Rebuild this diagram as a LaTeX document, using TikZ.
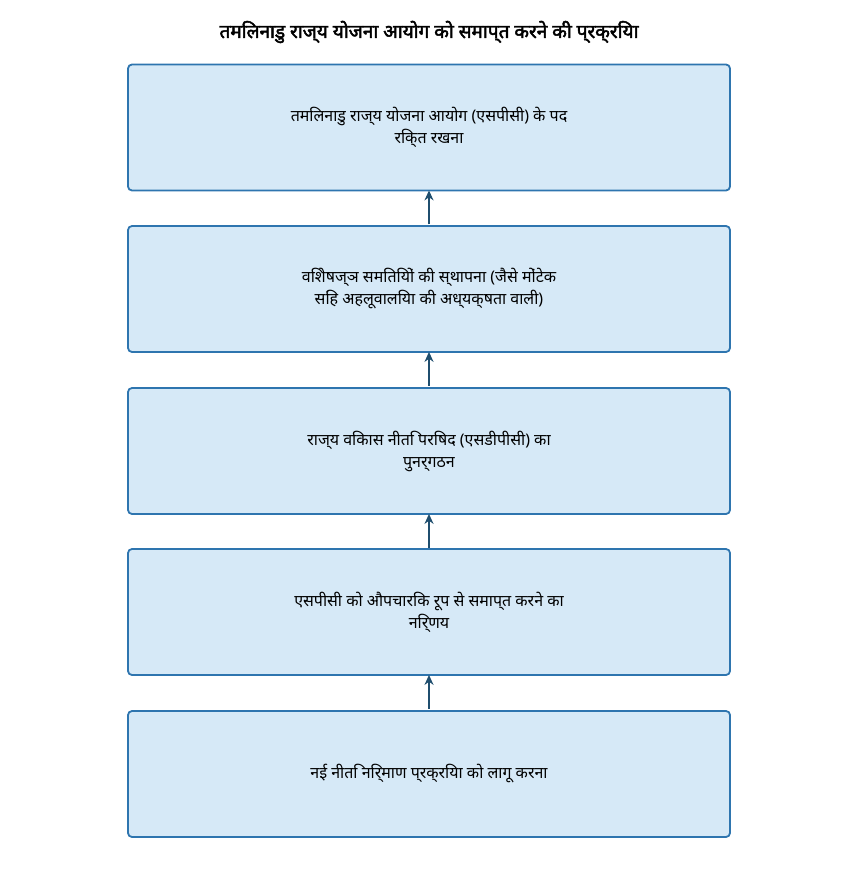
\documentclass[tikz,border=0pt]{standalone}
\usepackage{fontspec}
\setmainfont{Noto Sans}[AutoFakeBold=2.5]
\usetikzlibrary{arrows.meta}
\definecolor{boxfill}{HTML}{D6E9F7}
\definecolor{boxline}{HTML}{2E75AF}
\definecolor{arr}{HTML}{1F4E6E}
\tikzset{
 box/.style={draw=boxline,line width=1.8pt,fill=boxfill,rounded corners=4pt,minimum width=602pt,minimum height=126pt,align=center,font=\fontsize{16pt}{22pt}\selectfont},
 up/.style={draw=arr,line width=2.4pt,-{Stealth[length=10pt,width=9pt]}}
}
\begin{document}
\begin{tikzpicture}[x=1pt,y=1pt]
\useasboundingbox (0,0) rectangle (858,-877);
\node[font=\bfseries\fontsize{19pt}{23pt}\selectfont] (t) at (429,-32) {तमिलनाडु राज्य योजना आयोग को समाप्त करने की प्रक्रिया};
\node[box] (b1) at (429,-127.5) {तमिलनाडु राज्य योजना आयोग (एसपीसी) के पद\\रिक्त रखना};
\node[box] (b2) at (429,-289) {विशेषज्ञ समितियों की स्थापना (जैसे मोंटेक\\सिंह अहलूवालिया की अध्यक्षता वाली)};
\node[box] (b3) at (429,-451) {राज्य विकास नीति परिषद (एसडीपीसी) का\\पुनर्गठन};
\node[box] (b4) at (429,-612) {एसपीसी को औपचारिक रूप से समाप्त करने का\\निर्णय};
\node[box] (b5) at (429,-774) {नई नीति निर्माण प्रक्रिया को लागू करना};
\draw[up] ([yshift=-33pt]b1.south) -- ([yshift=1pt]b1.south);
\draw[up] ([yshift=-33pt]b2.south) -- ([yshift=1pt]b2.south);
\draw[up] ([yshift=-33pt]b3.south) -- ([yshift=1pt]b3.south);
\draw[up] ([yshift=-33pt]b4.south) -- ([yshift=1pt]b4.south);
\end{tikzpicture}
\end{document}
